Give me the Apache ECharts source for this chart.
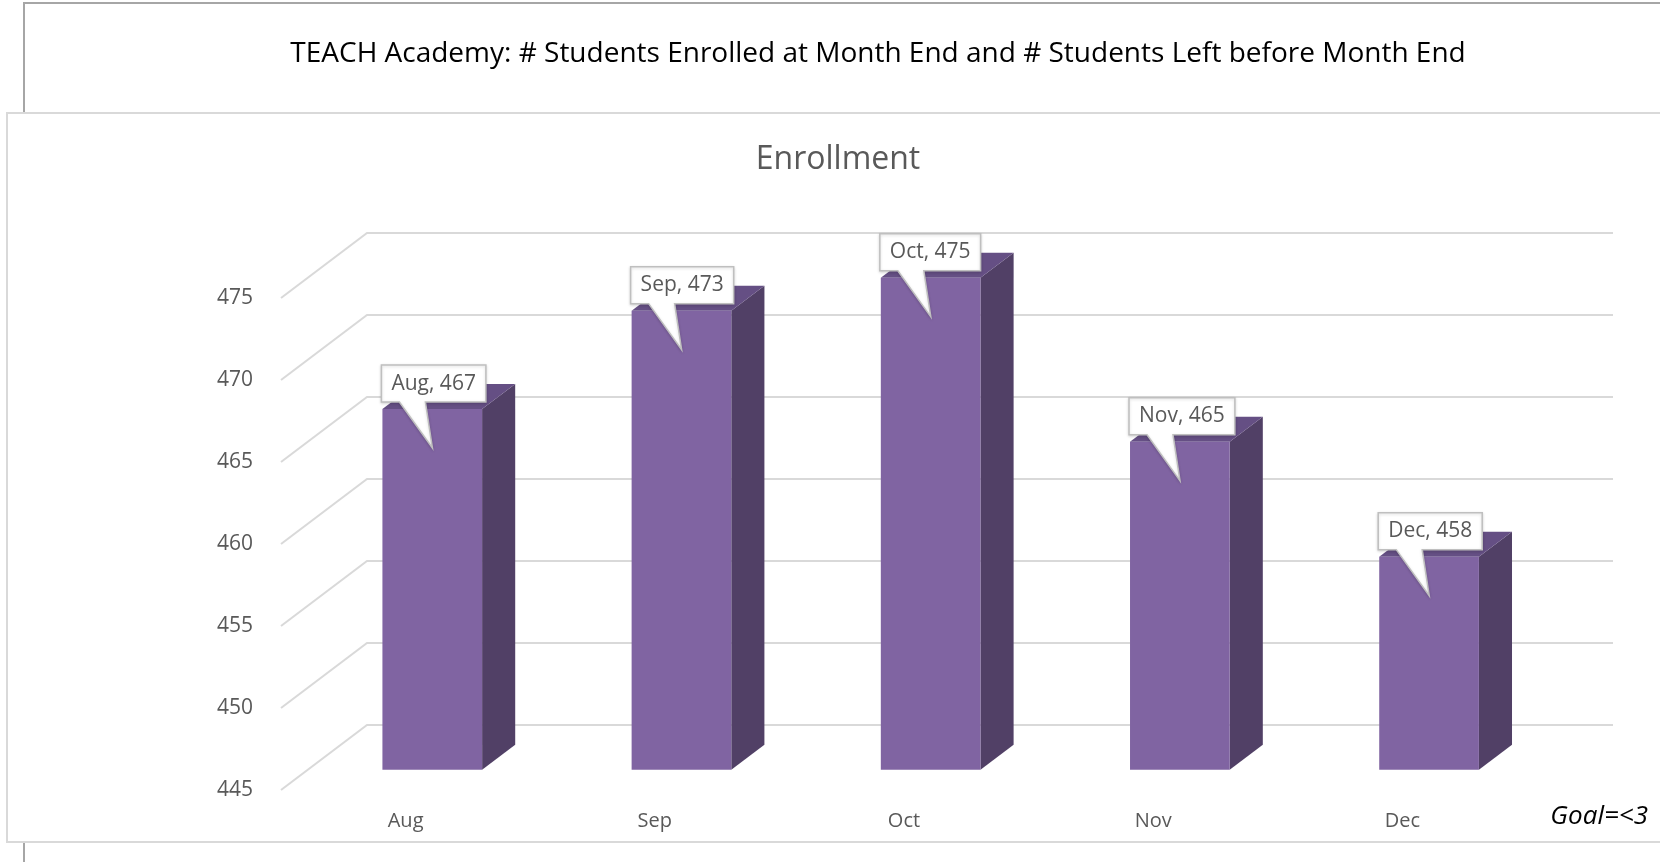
<!DOCTYPE html>
<html>
<head>
<meta charset="utf-8">
<script src="https://cdn.jsdelivr.net/npm/echarts@6/dist/echarts.min.js"></script>
<style>
  html, body { margin: 0; padding: 0; background: #fff; }
  #main { width: 1660px; height: 862px; }
</style>
</head>
<body>
<div id="main"></div>
<script>
var months = ['Aug', 'Sep', 'Oct', 'Nov', 'Dec'];
var enrolled = [467, 473, 475, 465, 458];
var yTicks = [445, 450, 455, 460, 465, 470, 475];

var FONT = '"Open Sans", sans-serif';
// offset of the back wall from the front plane (fake 3d)
var depth = [86, -65];
var barFront = 0.31;   // where the bar's front face sits in the depth
var barDepth = 0.385;  // how deep the bar is

var ctx = document.createElement('canvas').getContext('2d');
function textWidth(str, size) {
  ctx.font = size + 'px ' + FONT;
  return ctx.measureText(str).width;
}

// floor-to-back-wall gridline for one tick
function renderGridLine(params, api) {
  var cs = params.coordSys;
  var y = api.coord([0, api.value(1)])[1];
  return {
    type: 'polyline',
    shape: {
      points: [
        [cs.x, y],
        [cs.x + depth[0], y + depth[1]],
        [cs.x + cs.width + depth[0], y + depth[1]]
      ]
    },
    style: { stroke: '#d9d9d9', lineWidth: 2, fill: null }
  };
}

function renderBar(params, api) {
  var i = api.value(0);
  var v = api.value(1);
  var top = api.coord([i, v]);
  var bottom = api.coord([i, yTicks[0]]);
  var w = api.size([1, 0])[0] * 0.4;
  var fx = depth[0] * barFront, fy = depth[1] * barFront;
  var dx = depth[0] * barDepth, dy = depth[1] * barDepth;
  var x0 = top[0] - w / 2 + fx, x1 = x0 + w;
  var y0 = top[1] + fy, y1 = bottom[1] + fy;

  // callout box with tail
  var label = months[i] + ', ' + v;
  var lw = textWidth(label, 21) + 20;
  var bx0 = x0 - 1, by1 = y0 - 7, by0 = by1 - 37;

  return {
    type: 'group',
    children: [
      { type: 'polygon', shape: { points: [[x1, y0], [x1 + dx, y0 + dy], [x1 + dx, y1 + dy], [x1, y1]] }, style: { fill: '#514066' } },
      { type: 'polygon', shape: { points: [[x0, y0], [x0 + dx, y0 + dy], [x1 + dx, y0 + dy], [x1, y0]] }, style: { fill: '#654f84' } },
      { type: 'rect', shape: { x: x0, y: y0, width: w, height: y1 - y0 }, style: { fill: '#8064a2' } },
      {
        type: 'polygon',
        shape: { points: [[bx0, by0], [bx0 + lw, by0], [bx0 + lw, by1], [bx0 + 44, by1], [x0 + 50, y0 + 39], [bx0 + 18, by1], [bx0, by1]] },
        style: { fill: '#fff', stroke: '#bfbfbf', lineWidth: 1.5, shadowBlur: 3, shadowColor: 'rgba(0,0,0,0.15)', shadowOffsetY: 1 }
      },
      {
        type: 'text',
        style: { text: label, x: bx0 + lw / 2, y: (by0 + by1) / 2, align: 'center', verticalAlign: 'middle', font: '21px ' + FONT, fill: '#595959' }
      }
    ]
  };
}

var chart = echarts.init(document.getElementById('main'));

var option = {
  backgroundColor: '#ffffff',
  animation: false,
  title: [{
    text: 'TEACH Academy: # Students Enrolled at Month End and # Students Left before Month End',
    left: 873,
    top: 35,
    textAlign: 'center',
    textStyle: { fontFamily: FONT, fontSize: 28, fontWeight: 'normal', color: '#000' }
  }, {
    text: 'Enrollment',
    left: 833,
    top: 139,
    textAlign: 'center',
    textStyle: { fontFamily: FONT, fontSize: 32, fontWeight: 'normal', color: '#595959' }
  }],
  graphic: [
    // outer frame
    { type: 'rect', z: -10, shape: { x: 24, y: 3, width: 1700, height: 900 }, style: { fill: '#fff', stroke: '#a6a6a6', lineWidth: 2 } },
    // inner chart area
    { type: 'rect', z: -9, shape: { x: 7, y: 113, width: 1700, height: 729 }, style: { fill: '#fff', stroke: '#d9d9d9', lineWidth: 2 } },
    {
      type: 'text', z: 10, right: 12, top: 804,
      style: { text: 'Goal=<3', font: 'italic 26px ' + FONT, fill: '#000' }
    }
  ],
  grid: { left: 281, top: 298, width: 1246, height: 492 },
  xAxis: {
    type: 'category',
    data: months,
    axisLine: { show: false },
    axisTick: { show: false },
    axisLabel: { margin: 21, fontFamily: FONT, fontSize: 20, color: '#595959' }
  },
  yAxis: {
    type: 'value',
    min: 445,
    max: 475,
    interval: 5,
    splitLine: { show: false },
    axisLine: { show: false },
    axisTick: { show: false },
    axisLabel: { margin: 28, padding: [6, 0, 0, 0], fontFamily: FONT, fontSize: 21, color: '#595959' }
  },
  series: [{
    type: 'custom',
    renderItem: renderGridLine,
    data: yTicks.map(function (t) { return [0, t]; }),
    z: 1
  }, {
    type: 'custom',
    renderItem: renderBar,
    data: enrolled.map(function (v, i) { return [i, v]; }),
    z: 2
  }]
};

chart.setOption(option);
</script>
</body>
</html>
